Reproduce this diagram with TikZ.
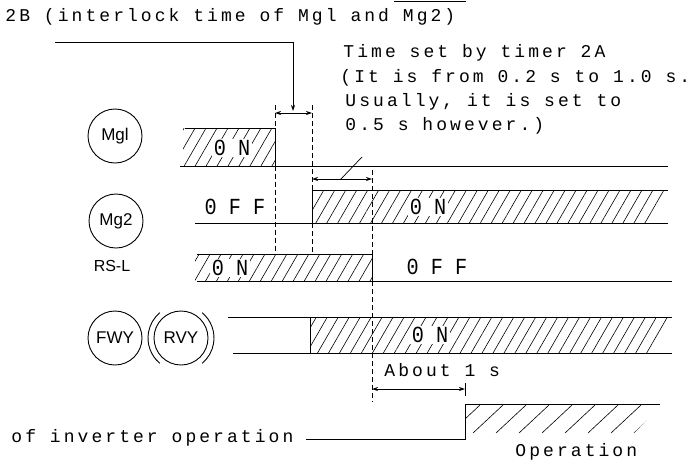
\documentclass[tikz,border=0pt]{standalone}
\usepackage{fontspec}
\usepackage{graphicx}
\setmainfont{Liberation Serif}
\newfontfamily\tw[LetterSpace=17]{Liberation Mono}
\newfontfamily\lbl{Liberation Mono}
\newfontfamily\sans{Liberation Sans}
\usetikzlibrary{arrows.meta,patterns.meta}
\begin{document}
\begin{tikzpicture}[x=1pt,y=-1pt, line width=0.9pt,
  >={Stealth[length=6pt,width=4pt]},
  txt/.style={font={\tw\fontsize{18}{18}\selectfont}, anchor=base west, inner sep=0pt},
  lab/.style={font={\lbl\fontsize{23}{23}\selectfont}, inner sep=1.5pt},
  labw/.style={lab, fill=white},
  sig/.style={circle, draw, line width=0.9pt, minimum size=54pt, inner sep=0pt, font={\sans\fontsize{17}{17}\selectfont}},
  dsh/.style={dash pattern=on 5pt off 3pt, line width=0.8pt},
  hatch/.style={pattern={Lines[angle=60,distance=9.5pt,line width=0.6pt]}},
  dimline/.style={<->, line width=0.8pt},
]
\useasboundingbox (0,0) rectangle (695,466);
\draw[line width=0.8pt] (394,1) -- (466,1);

% texts
\node[txt] (title) at (5,21) {2B (interlock time of Mgl and Mg2)};
\node[txt] (t1) at (343,57) {Time set by timer 2A};
\node[txt] (t2) at (340,82) {(It is from 0.2 s to 1.0 s.};
\node[txt] (t3) at (345,106) {Usually, it is set to};
\node[txt] (t4) at (345,130) {0.5 s however.)};

% signal symbols
\node[sig] (mg1) at (115,136) {Mgl};
\node[sig] (mg2) at (116,221) {Mg2};
\node[font={\sans\fontsize{16}{16}\selectfont}, inner sep=0pt] (rsl) at (112,266) {RS-L};
\node[sig] (fwy) at (115,338) {FWY};
\node[sig] (rvy) at (181,338) {RVY};
\draw (rvy.center) ++(130:33) arc (130:230:33);
\draw (rvy.center) ++(-50:33) arc (-50:50:33);

% hatched ON regions
\fill[hatch] (183,128) rectangle (275,166);
\fill[hatch] (312,190) -- (668,190) -- (650,223) -- (312,223) -- cycle;
\fill[hatch] (195,254) rectangle (372,281);
\fill[hatch] (310,317) -- (672,317) -- (651,353) -- (310,353) -- cycle;
\begin{scope}
  \clip (466,405) -- (662,405) -- (634,433) -- (466,433) -- cycle;
  \foreach \x in {480,503,...,690} \draw[line width=0.6pt] (\x,405) -- ++(-30,28);
\end{scope}

% Mg1
\coordinate (m1a) at (185,128); \coordinate (m1b) at (275,128); \coordinate (m1c) at (275,166);
\draw (m1a) -- (m1b) -- (m1c);
\draw (180,166) -- (668,166);
% Mg2
\coordinate (m2a) at (312,223); \coordinate (m2b) at (312,190); \coordinate (m2c) at (668,190);
\draw (m2a) -- (m2b) -- (m2c);
\draw (195,223) -- (668,223);
% RS-L
\coordinate (r1) at (197,254); \coordinate (r2) at (372,254); \coordinate (r3) at (372,281);
\draw (r1) -- (r2) -- (r3);
\draw (197,281) -- (672,281);
% FWY / RVY
\draw (228,317) -- (672,317);
\draw (233,353) -- (672,353);
\draw (310,317) -- (310,353);
% inverter operation
\coordinate (o1) at (306,439); \coordinate (o2) at (465,439); \coordinate (o3) at (465,404); \coordinate (o4) at (660,404);
\draw (o1) -- (o2) -- (o3) -- (o4);

% dashed verticals
\draw[dsh] (275,105) -- (m1b);
\draw[dsh] (m1c) -- (275,254);
\draw[dsh] (312,105) -- (m2b);
\draw[dsh] (m2a) -- (312,254);
\draw[dsh] (372,170) -- (r2);
\draw[dsh] (r3) -- (372,402);

% dimensions
\coordinate (b0) at (55,42); \coordinate (b1) at (293,42); \coordinate (b2) at (293,111);
\draw[->, line width=0.8pt] (b0) -- (b1) -- (b2);
\draw[dimline] (275,113) -- (312,113);
\draw[dimline] (312,179) -- (372,179);
\draw[line width=0.7pt] (340,180) -- (362,157);
\draw[dimline] (372,389) -- (o3 |- 0,389);
\draw[line width=0.8pt] (465,383) -- (465,396);

% state labels
\node[labw] (on1) at (232,148) {\scalebox{0.88}[1]{0 N}};
\node[lab] (off2) at (235,207) {\scalebox{0.88}[1]{0 F F}};
\node[labw] (on2) at (428,207) {\scalebox{0.88}[1]{0 N}};
\node[labw] (on3) at (230,268) {\scalebox{0.88}[1]{0 N}};
\node[lab] (off3) at (437,267) {\scalebox{0.88}[1]{0 F F}};
\node[labw] (on4) at (430,335) {\scalebox{0.88}[1]{0 N}};

\node[txt] (about) at (384,376) {About 1 s};
\node[txt] (inv) at (11,442) {of inverter operation};
\node[txt] (oper) at (515,456) {Operation};
\end{tikzpicture}
\end{document}
